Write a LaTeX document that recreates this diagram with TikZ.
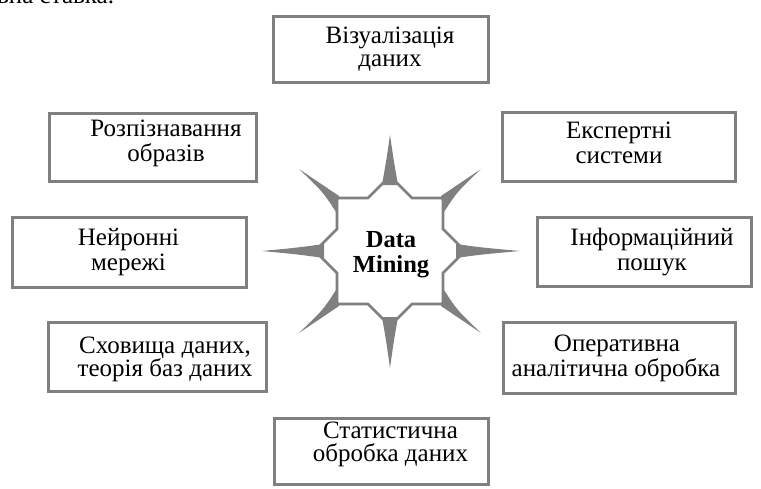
\documentclass[tikz,border=0pt]{standalone}
\usepackage{tikz}
\usepackage{fontspec}
\setmainfont{Liberation Serif}
\definecolor{framegray}{RGB}{128,128,128}
\begin{document}
\begin{tikzpicture}[x=1pt,y=-1pt,
  box/.style={draw=framegray, line width=3pt, fill=white, inner sep=0pt},
  txt/.style={anchor=base, inner sep=0pt, font=\fontsize{25}{24}\selectfont},
  btxt/.style={anchor=base, inner sep=0pt, font=\fontsize{24.5}{24}\selectfont\bfseries},
  starline/.style={draw=framegray, line width=2.7pt, line join=miter},
  spike/.style={fill=framegray}]
\useasboundingbox (0,0) rectangle (761,488);
\fill[white] (0,0) rectangle (761,488);

% fragment of text from the page above, cut by the picture edge
\begin{scope}
\clip (0,0) rectangle (761,488);
\node[txt, anchor=base west] (frag) at (-3,3.5) {вна ставка.};
\end{scope}

% boxes
\node[box, minimum width=215pt, minimum height=66pt] (b1) at (381,49.5) {};
\node[box, minimum width=207pt, minimum height=68pt] (b2) at (153,147.5) {};
\node[box, minimum width=233pt, minimum height=69pt] (b3) at (619,147) {};
\node[box, minimum width=234pt, minimum height=70pt] (b4) at (129.5,252.5) {};
\node[box, minimum width=214pt, minimum height=69pt] (b5) at (644.5,252) {};
\node[box, minimum width=218pt, minimum height=69pt] (b6) at (157.5,357) {};
\node[box, minimum width=232pt, minimum height=71pt] (b7) at (619.5,358) {};
\node[box, minimum width=214pt, minimum height=66pt] (b8) at (381.5,451.5) {};

% box texts
\node[txt] (t1a) at (390,43.3) {Візуалізація};
\node[txt] (t1b) at (390,66.7) {даних};
\node[txt] (t2a) at (166,136.7) {Розпізнавання};
\node[txt] (t2b) at (166,161.7) {образів};
\node[txt] (t3a) at (619,138.3) {Експертні};
\node[txt] (t3b) at (619,163.3) {системи};
\node[txt] (t4a) at (128.5,245) {Нейронні};
\node[txt] (t4b) at (128.5,270) {мережі};
\node[txt] (t5a) at (652,245) {Інформаційний};
\node[txt] (t5b) at (652,270) {пошук};
\node[txt] (t6a) at (165,353.3) {Сховища даних,};
\node[txt] (t6b) at (165,376.7) {теорія баз даних};
\node[txt] (t7a) at (617,351.7) {Оперативна};
\node[txt] (t7b) at (616,376) {аналітична обробка};
\node[txt] (t8a) at (390.5,438.3) {Статистична};
\node[txt] (t8b) at (390.5,461.7) {обробка даних};

% star
\begin{scope}[shift={(390,251)}]
\draw[starline] (-5,-70) -- (5,-70) -- (22,-53) -- (53,-53) -- (53,-22) -- (70,-5)
  -- (70,5) -- (53,22) -- (53,53) -- (22,53) -- (5,70) -- (-5,70) -- (-22,53)
  -- (-53,53) -- (-53,22) -- (-70,5) -- (-70,-5) -- (-53,-22) -- (-53,-53)
  -- (-22,-53) -- cycle;
% axial spikes
\fill[spike] (-8,-66) .. controls (-3.8,-90) .. (0,-116) .. controls (3.8,-90) .. (8,-66) -- cycle;
\fill[spike] (-8,66) .. controls (-3.8,90) .. (0,117) .. controls (3.8,90) .. (8,66) -- cycle;
\fill[spike] (-66,-7) .. controls (-92,-3.4) .. (-128,0) .. controls (-92,3.4) .. (-66,7) -- cycle;
\fill[spike] (66,-7) .. controls (92,-3.4) .. (130,0) .. controls (92,3.4) .. (66,7) -- cycle;
% diagonal spikes
\fill[spike] (-51,-55) -- (-91,-82) .. controls (-67,-59) .. (-54,-39) -- cycle;
\fill[spike] (51,-55) -- (91,-82) .. controls (67,-59) .. (54,-39) -- cycle;
\fill[spike] (51,55) -- (91,82) .. controls (67,59) .. (54,39) -- cycle;
\fill[spike] (-51,55) -- (-91,82) .. controls (-67,59) .. (-54,39) -- cycle;
\end{scope}

% centre text
\node[btxt] (dm1) at (391,247) {Data};
\node[btxt] (dm2) at (391,272) {Mining};
\end{tikzpicture}
\end{document}
